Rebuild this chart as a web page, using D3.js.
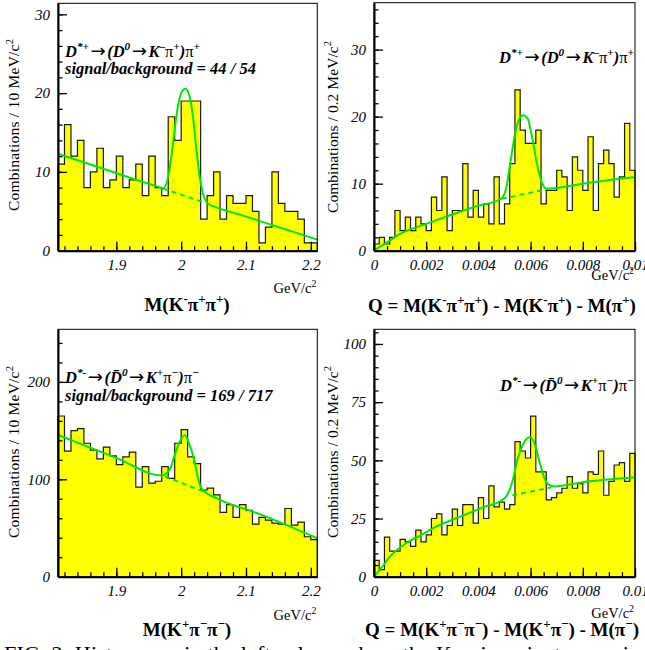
<!DOCTYPE html>
<html>
<head>
<meta charset="utf-8">
<script src="https://cdn.jsdelivr.net/npm/d3@7/dist/d3.min.js"></script>
<style>
body { margin: 0; background: #fff; }
svg { display: block; }
text { font-family: "Liberation Serif", "DejaVu Serif", serif; fill: #000; }
</style>
</head>
<body>
<div id="chart"></div>
<script>
// bin edges (GeV/c^2)
var massEdges = [1.81,1.82,1.83,1.84,1.85,1.86,1.87,1.88,1.89,1.90,1.91,1.92,1.93,1.94,1.95,1.96,1.97,1.98,1.99,2.00,
  2.01,2.02,2.03,2.04,2.05,2.06,2.07,2.08,2.09,2.10,2.11,2.12,2.13,2.14,2.15,2.16,2.17,2.18,2.19,2.20,2.21];
var qEdges = [0,0.0002,0.0004,0.0006,0.0008,0.001,0.0012,0.0014,0.0016,0.0018,0.002,0.0022,0.0024,0.0026,0.0028,
  0.003,0.0032,0.0034,0.0036,0.0038,0.004,0.0042,0.0044,0.0046,0.0048,0.005,0.0052,0.0054,0.0056,0.0058,
  0.006,0.0062,0.0064,0.0066,0.0068,0.007,0.0072,0.0074,0.0076,0.0078,0.008,0.0082,0.0084,0.0086,0.0088,
  0.009,0.0092,0.0094,0.0096,0.0098,0.01];

// counts per bin
var plusMassCounts = [11,16,12,14,8,10,13,8,9,12,8,9,11,7,12,8,7,17,14,19,
  19,19,4,7,10,4,7,6,6,7,5,1,3,10,6,5,5,4,1,1];
var plusQCounts = [1,2,1,2,6,3,5,3,5,4,3,8,6,11,3,6,6,13,5,9,5,7,4,11,4,
  7,13,24,18,16,16,18,7,9,9,12,11,6,14,12,9,17,6,13,15,13,8,11,19,12];
var minusMassCounts = [165,129,150,152,137,130,121,133,124,115,123,128,92,113,96,98,113,101,137,151,
  123,116,89,91,84,66,74,61,74,68,54,61,58,55,54,70,53,56,41,38];
var minusQCounts = [7,3,17,11,11,16,15,13,20,15,18,25,27,18,22,29,22,31,31,23,34,25,39,30,32,
  29,31,58,54,51,69,45,45,33,34,36,38,43,38,40,36,45,44,54,35,41,48,49,41,53];

// fit curves: [x, y]
var plusMassFit = [[1.81,12.3],[1.88,10.4],[1.94,8.75],[1.965,8.1],[1.972,7.9],[1.98,9.4],[1.985,12.0],[1.99,15.4],
  [1.995,18.3],[2.0,20.0],[2.0065,20.55],[2.013,19.6],[2.018,17.1],[2.023,13.2],[2.0285,9.4],[2.0335,7.3],
  [2.041,6.0],[2.0515,5.6],[2.09,4.6],[2.15,3.0],[2.21,1.4]];
var plusMassBg = [[1.972,7.9],[2.036,6.1]];
var plusQFit = [[0,0],[0.0006,1.5],[0.001,2.5],[0.002,4.0],[0.003,5.4],[0.004,6.7],[0.0048,7.6],[0.00495,8.1],
  [0.00508,9.6],[0.00523,13.3],[0.0054,17.3],[0.00556,19.6],[0.00572,20.2],[0.00589,19.7],[0.00606,16.9],
  [0.00625,12.8],[0.00643,10.2],[0.00661,9.25],[0.0069,9.3],[0.008,10.0],[0.01,11.0]];
var plusQBg = [[0.0049,7.75],[0.0066,9.15]];
var minusMassFit = [[1.81,145.5],[1.90,122],[1.9695,104],[1.9826,110],[1.99,125],[1.998,139],[2.0054,145.6],
  [2.0131,135],[2.0208,118],[2.026,101],[2.031,91],[2.0388,86],[2.0567,80],[2.13,62],[2.21,39.5]];
var minusMassBg = [[1.975,103],[2.036,87]];
var minusQFit = [[0,0],[0.0003,4.0],[0.0006,8.5],[0.0012,14.2],[0.0018,17.9],[0.0024,21.6],[0.0031,24.9],
  [0.0037,27.6],[0.0043,30.3],[0.00485,32.5],[0.0051,35],[0.0053,40.8],[0.0055,50.5],[0.0057,56.6],
  [0.00596,59.9],[0.00615,57.3],[0.00634,49.4],[0.00653,42.3],[0.00673,39.3],[0.0069,38.8],[0.008,40.6],[0.01,42.7]];
var minusQBg = [[0.0053,35.0],[0.0068,38.4]];

// axis ticks and labels
var massTicks = [1.9, 2.0, 2.1, 2.2];
var massTickLabels = ["1.9", "2", "2.1", "2.2"];
var qTicks = [0, 0.002, 0.004, 0.006, 0.008, 0.01];
var qTickLabels = ["0", "0.002", "0.004", "0.006", "0.008", "0.01"];
var plusMassYTicks = [0, 10, 20, 30];
var plusQYTicks = [0, 10, 20, 30];
var minusMassYTicks = [0, 100, 200];
var minusQYTicks = [0, 25, 50, 75, 100];

var W = 645, H = 650;
var yellow = "#ffff00", green = "#00e600";

var svg = d3.select("#chart").append("svg")
  .attr("width", W).attr("height", H);

// text made of pieces, some raised
function rich(sel, parts, size) {
  var shift = 0;
  parts.forEach(function(p) {
    var ts = sel.append("tspan").text(p.t);
    var target = p.sup ? -0.4 * size : 0;
    if (target !== shift) { ts.attr("dy", target - shift); shift = target; }
    if (p.sup) ts.attr("font-size", size * 0.68);
    if (p.fs) ts.attr("font-size", size * p.fs);
    if (p.ff) ts.attr("font-family", p.ff);
    if (p.dx) ts.attr("dx", p.dx);
    if (p.st) ts.attr("font-style", p.st);
    if (p.w) ts.attr("font-weight", p.w);
  });
}

var N = "normal";
function drawPanel(o) {
  var x = d3.scaleLinear().domain(o.xDomain).range([o.left, o.right]);
  var y = d3.scaleLinear().domain(o.yDomain).range([o.bottom, o.top]);
  var g = svg.append("g");

  // histogram
  var pts = [[o.edges[0], 0]];
  o.counts.forEach(function(c, i) {
    pts.push([o.edges[i], c]);
    pts.push([o.edges[i + 1], c]);
  });
  pts.push([o.edges[o.edges.length - 1], 0]);
  g.append("path").datum(pts)
    .attr("d", d3.area().x(function(d) { return x(d[0]); }).y0(y(0)).y1(function(d) { return y(d[1]); }))
    .attr("fill", yellow);
  g.append("path").datum(pts)
    .attr("d", d3.line().x(function(d) { return x(d[0]); }).y(function(d) { return y(d[1]); }))
    .attr("fill", "none").attr("stroke", "#1a1a1a").attr("stroke-width", 1.2);

  // fit
  var fitLine = d3.line().x(function(d) { return x(d[0]); }).y(function(d) { return y(d[1]); })
    .curve(d3.curveMonotoneX);
  g.append("path").datum(o.bg).attr("d", fitLine)
    .attr("fill", "none").attr("stroke", green).attr("stroke-width", 2).attr("stroke-dasharray", "5,4");
  g.append("path").datum(o.fit).attr("d", fitLine)
    .attr("fill", "none").attr("stroke", green).attr("stroke-width", 2);

  // frame
  g.append("rect").attr("x", o.left).attr("y", o.top)
    .attr("width", o.right - o.left).attr("height", o.bottom - o.top)
    .attr("fill", "none").attr("stroke", "#000").attr("stroke-width", 1);

  // axes
  var yMinor = g.append("g").attr("transform", "translate(" + o.left + ",0)")
    .call(d3.axisLeft(y).tickValues(o.yMinor).tickSize(-4.5).tickSizeOuter(0).tickFormat(""));
  yMinor.select(".domain").remove();
  var xMinor = g.append("g").attr("transform", "translate(0," + o.bottom + ")")
    .call(d3.axisBottom(x).tickValues(o.xMinor).tickSize(-4.5).tickSizeOuter(0).tickFormat(""));
  xMinor.select(".domain").remove();

  var yAx = g.append("g").attr("transform", "translate(" + o.left + ",0)")
    .call(d3.axisLeft(y).tickValues(o.yTicks).tickSize(-9).tickPadding(8).tickSizeOuter(0)
      .tickFormat(function(d) { return String(d); }));
  var xAx = g.append("g").attr("transform", "translate(0," + o.bottom + ")")
    .call(d3.axisBottom(x).tickValues(o.xTicks).tickSize(-9).tickPadding(9).tickSizeOuter(0)
      .tickFormat(function(d, i) { return o.xLabels[i]; }));
  [yAx, xAx, yMinor, xMinor].forEach(function(a) {
    a.attr("font-family", null);
    a.selectAll(".tick line").attr("stroke", "#000").attr("stroke-width", 1.3);
    a.selectAll("text").attr("font-family", "Liberation Serif").attr("font-style", "italic")
      .attr("font-size", 15).attr("fill", "#000");
  });
  [yAx, xAx].forEach(function(a) {
    a.select(".domain").attr("stroke", "#000").attr("stroke-width", 2);
  });

  // y title
  var yt = g.append("text")
    .attr("transform", "translate(" + o.yTitleX + "," + o.yTitleY + ") rotate(-90)")
    .attr("text-anchor", "middle").attr("font-size", 15.5)
    .attr("textLength", 172).attr("lengthAdjust", "spacing");
  rich(yt, [{t: o.yTitle}, {t: "2", sup: true}], 15.5);

  // unit
  var un = g.append("text").attr("x", o.right - 1).attr("y", o.unitY)
    .attr("text-anchor", "end").attr("font-size", 14.5);
  rich(un, [{t: "GeV/c"}, {t: "2", sup: true}], 14.5);

  // x title
  var xt = g.append("text").attr("x", o.titleX).attr("y", o.titleY)
    .attr("text-anchor", "middle").attr("font-size", 19).attr("font-weight", "bold");
  rich(xt, o.title, 19);

  // decay annotation
  o.notes.forEach(function(n) {
    var t = g.append("text").attr("x", n.x).attr("y", n.y).attr("text-anchor", n.anchor)
      .attr("font-size", 16.5).attr("font-weight", "bold").attr("font-style", "italic");
    rich(t, n.parts, 16.5);
  });
}

var arrow = {t: "\u2192", st: N, w: N, fs: 1.1, ff: "DejaVu Sans", dx: 1.5};
var decayPlus = [{t: "D"}, {t: "*+", sup: true}, arrow, {t: "(D", dx: 1.5}, {t: "0", sup: true},
  arrow, {t: "K", dx: 1.5}, {t: "\u2013", sup: true}, {t: "\u03c0", st: N, w: N}, {t: "+", sup: true},
  {t: ")"}, {t: "\u03c0", st: N, w: N}, {t: "+", sup: true}];
var decayMinus = [{t: "D"}, {t: "*-", sup: true}, arrow, {t: "(D\u0304", dx: 1.5}, {t: "0", sup: true},
  arrow, {t: "K", dx: 1.5}, {t: "+", sup: true}, {t: "\u03c0", st: N, w: N}, {t: "\u2212", sup: true},
  {t: ")"}, {t: "\u03c0", st: N, w: N}, {t: "\u2212", sup: true}];

drawPanel({
  xDomain: [1.81, 2.21], yDomain: [0, 31.4], left: 58, right: 317.3, top: 3.3, bottom: 250.7,
  edges: massEdges, counts: plusMassCounts, fit: plusMassFit, bg: plusMassBg,
  xTicks: massTicks, xLabels: massTickLabels, xMinor: d3.range(1.82, 2.215, 0.02),
  yTicks: plusMassYTicks, yMinor: d3.range(2, 31.4, 2),
  yTitle: "Combinations / 10 MeV/c", yTitleX: 19, yTitleY: 125, unitY: 293,
  title: [{t: "M(K"}, {t: "-", sup: true}, {t: "\u03c0"}, {t: "+", sup: true}, {t: "\u03c0"}, {t: "+", sup: true}, {t: ")"}],
  titleX: 187, titleY: 311,
  notes: [{x: 65, y: 57, anchor: "start", parts: decayPlus},
          {x: 65, y: 74, anchor: "start", parts: [{t: "signal/background = 44 / 54"}]}]
});

drawPanel({
  xDomain: [0, 0.01], yDomain: [0, 37], left: 374, right: 635, top: 2.7, bottom: 250.7,
  edges: qEdges, counts: plusQCounts, fit: plusQFit, bg: plusQBg,
  xTicks: qTicks, xLabels: qTickLabels, xMinor: d3.range(0.0005, 0.0101, 0.0005),
  yTicks: plusQYTicks, yMinor: d3.range(2, 37, 2),
  yTitle: "Combinations / 0.2 MeV/c", yTitleX: 337.5, yTitleY: 127, unitY: 280,
  title: [{t: "Q = M(K"}, {t: "-", sup: true}, {t: "\u03c0"}, {t: "+", sup: true}, {t: "\u03c0"}, {t: "+", sup: true},
    {t: ") - M(K"}, {t: "-", sup: true}, {t: "\u03c0"}, {t: "+", sup: true}, {t: ") - M(\u03c0"}, {t: "+", sup: true}, {t: ")"}],
  titleX: 502, titleY: 312,
  notes: [{x: 634, y: 63, anchor: "end", parts: decayPlus}]
});

drawPanel({
  xDomain: [1.81, 2.21], yDomain: [0, 254], left: 58, right: 317.3, top: 329.3, bottom: 576.7,
  edges: massEdges, counts: minusMassCounts, fit: minusMassFit, bg: minusMassBg,
  xTicks: massTicks, xLabels: massTickLabels, xMinor: d3.range(1.82, 2.215, 0.02),
  yTicks: minusMassYTicks, yMinor: d3.range(20, 254, 20),
  yTitle: "Combinations / 10 MeV/c", yTitleX: 19, yTitleY: 452, unitY: 620,
  title: [{t: "M(K"}, {t: "+", sup: true}, {t: "\u03c0"}, {t: "\u2212", sup: true}, {t: "\u03c0"}, {t: "\u2212", sup: true}, {t: ")"}],
  titleX: 187, titleY: 636,
  notes: [{x: 65, y: 383, anchor: "start", parts: decayMinus},
          {x: 65, y: 401, anchor: "start", parts: [{t: "signal/background = 169 / 717"}]}]
});

drawPanel({
  xDomain: [0, 0.01], yDomain: [0, 106.3], left: 374, right: 635, top: 329.3, bottom: 576.7,
  edges: qEdges, counts: minusQCounts, fit: minusQFit, bg: minusQBg,
  xTicks: qTicks, xLabels: qTickLabels, xMinor: d3.range(0.0005, 0.0101, 0.0005),
  yTicks: minusQYTicks, yMinor: d3.range(5, 106, 5),
  yTitle: "Combinations / 0.2 MeV/c", yTitleX: 337.5, yTitleY: 452, unitY: 618,
  title: [{t: "Q = M(K"}, {t: "+", sup: true}, {t: "\u03c0"}, {t: "\u2212", sup: true}, {t: "\u03c0"}, {t: "\u2212", sup: true},
    {t: ") - M(K"}, {t: "+", sup: true}, {t: "\u03c0"}, {t: "\u2212", sup: true}, {t: ") - M(\u03c0"}, {t: "\u2212", sup: true}, {t: ")"}],
  titleX: 502, titleY: 636,
  notes: [{x: 634, y: 391, anchor: "end", parts: decayMinus}]
});

// caption, cut by the bottom edge
svg.append("text").attr("x", 4).attr("y", 661).attr("font-size", 22)
  .attr("textLength", 636).attr("lengthAdjust", "spacing")
  .text("FIG. 2:  Histograms in the left column show the K\u03c0\u03c0 invariant mass, in");
</script>
</body>
</html>
